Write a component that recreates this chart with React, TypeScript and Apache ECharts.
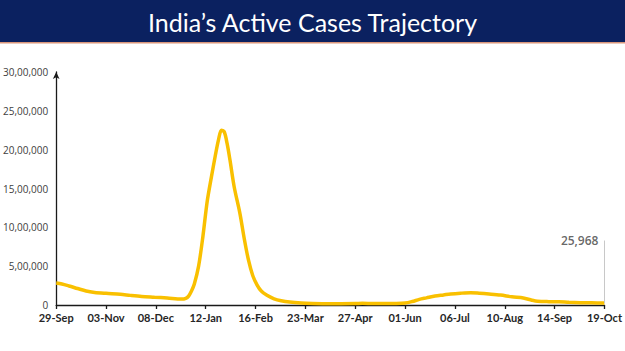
import React, { useEffect, useRef } from "react";
import * as echarts from "echarts";

const titleText = "India\u2019s Active Cases Trajectory";
const startDate = "2021-09-29";
const tickLabels = ["29-Sep", "03-Nov", "08-Dec", "12-Jan", "16-Feb", "23-Mar", "27-Apr", "01-Jun", "06-Jul", "10-Aug", "14-Sep", "19-Oct"];
const tickStepDays = 35;

const dates = [
  "2021-09-29", "2021-10-03", "2021-10-08", "2021-10-14", "2021-10-20", "2021-10-26",
  "2021-11-03", "2021-11-13", "2021-11-20", "2021-11-28", "2021-12-07", "2021-12-16",
  "2021-12-26", "2021-12-29", "2021-12-31", "2022-01-02", "2022-01-04", "2022-01-07",
  "2022-01-10", "2022-01-13", "2022-01-16", "2022-01-19", "2022-01-21", "2022-01-23",
  "2022-01-25", "2022-01-27", "2022-01-29", "2022-02-01", "2022-02-05", "2022-02-08",
  "2022-02-11", "2022-02-14", "2022-02-17", "2022-02-20", "2022-02-24", "2022-03-01",
  "2022-03-06", "2022-03-12", "2022-03-20", "2022-03-28", "2022-04-07", "2022-04-17",
  "2022-04-27", "2022-05-02", "2022-05-09", "2022-05-17", "2022-05-25", "2022-06-01",
  "2022-06-06", "2022-06-11", "2022-06-16", "2022-06-22", "2022-06-28", "2022-07-03",
  "2022-07-10", "2022-07-17", "2022-07-23", "2022-07-30", "2022-08-07", "2022-08-15",
  "2022-08-23", "2022-08-29", "2022-09-02", "2022-09-10", "2022-09-17", "2022-09-24",
  "2022-10-02", "2022-10-10", "2022-10-19",
];

const activeCases = [
  282000, 270000, 245000, 212000, 180000, 162000,
  150000, 138000, 124000, 110000, 100000, 90000,
  76000, 85000, 115000, 180000, 270000, 500000,
  880000, 1330000, 1650000, 1950000, 2130000, 2250000,
  2230000, 2080000, 1870000, 1520000, 1180000, 860000,
  580000, 380000, 260000, 180000, 125000, 80000,
  55000, 38000, 26000, 20000, 17000, 16000,
  18000, 22000, 19000, 18000, 19000, 25000,
  45000, 72000, 92000, 116000, 130000, 142000,
  152000, 158000, 152000, 142000, 128000, 105000,
  90000, 62000, 48000, 43000, 42000, 35000,
  30000, 28000, 25968,
];

const annotationLabel = "25,968";

const DAY = 86400000;
const toDay = (d: string) => Math.round((Date.parse(d + "T00:00:00Z") - Date.parse(startDate + "T00:00:00Z")) / DAY);

const indianFormat = (v: number) => {
  const s = String(Math.round(v));
  if (s.length <= 3) return s;
  const last3 = s.slice(-3);
  let rest = s.slice(0, -3);
  const parts: string[] = [];
  while (rest.length > 2) {
    parts.unshift(rest.slice(-2));
    rest = rest.slice(0, -2);
  }
  if (rest.length) parts.unshift(rest);
  return parts.join(",") + "," + last3;
};

export default function App() {
  const ref = useRef<HTMLDivElement>(null);
  useEffect(() => {
    if (!ref.current) return;
    const chart = echarts.init(ref.current, null, { renderer: "svg" });
    const seriesData = dates.map((d, i) => [toDay(d), activeCases[i]]);
    const lastX = toDay(dates[dates.length - 1]);
    const lastY = activeCases[activeCases.length - 1];
    const maxDay = tickStepDays * (tickLabels.length - 1);
    chart.setOption({
      animation: false,
      backgroundColor: "#ffffff",
      graphic: [
        { type: "rect", left: 0, top: 0, shape: { width: 625, height: 42 }, style: { fill: "#0b2160" }, z: 10 },
        { type: "rect", left: 0, top: 42, shape: { width: 625, height: 1.5 }, style: { fill: "#d9967a" }, z: 10 },
        {
          type: "text",
          x: 312.5,
          y: 22,
          z: 11,
          style: {
            text: titleText,
            fill: "#ffffff",
            font: "normal 25px Lato",
            textAlign: "center",
            textVerticalAlign: "middle",
          },
        },
      ],
      grid: { left: 55, right: 19, top: 72, bottom: 46, containLabel: false },
      xAxis: {
        type: "value",
        min: 0,
        max: maxDay,
        interval: tickStepDays,
        splitLine: { show: false },
        axisLine: { show: true, lineStyle: { color: "#1a1a1a", width: 1.3 } },
        axisTick: { show: true, length: 4, lineStyle: { color: "#1a1a1a", width: 1.3 } },
        axisLabel: {
          margin: 7,
          color: "#262626",
          fontFamily: "Lato",
          fontWeight: "bold",
          fontSize: 11,
          formatter: (v: number) => tickLabels[Math.round(v / tickStepDays)] ?? "",
        },
      },
      yAxis: {
        type: "value",
        min: 0,
        max: 3000000,
        interval: 500000,
        splitLine: { show: false },
        axisTick: { show: false },
        axisLine: {
          show: true,
          symbol: ["none", "arrow"],
          symbolSize: [5, 7],
          lineStyle: { color: "#1a1a1a", width: 1.3 },
        },
        axisLabel: {
          margin: 8,
          color: "#404040",
          fontFamily: "Open Sans",
          fontSize: 10,
          formatter: (v: number) => indianFormat(v),
        },
      },
      series: [
        {
          type: "line",
          data: seriesData,
          smooth: 0.3,
          showSymbol: false,
          lineStyle: { color: "#f9c000", width: 3.5 },
          markLine: {
            silent: true,
            symbol: "none",
            label: { show: false },
            lineStyle: { color: "#c8c8c8", width: 1, type: "solid" },
            data: [[{ coord: [lastX, lastY] }, { coord: [lastX, 830000] }]],
          },
        },
        {
          type: "scatter",
          data: [[lastX, 830000]],
          symbolSize: 0,
          label: {
            show: true,
            position: "left",
            distance: 6,
            formatter: annotationLabel,
            color: "#404040",
            fontFamily: "Open Sans",
            fontWeight: 600,
            fontSize: 12,
          },
        },
      ],
    });
    return () => chart.dispose();
  }, []);
  return <div ref={ref} style={{ position: "absolute", left: 0, top: 0, width: 625, height: 351 }} />;
}
